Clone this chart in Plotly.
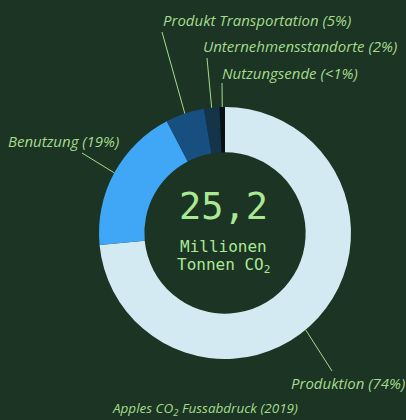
import math
import plotly.graph_objects as go

# ---- data ----
categories = ["Produktion", "Benutzung", "Produkt Transportation",
              "Unternehmensstandorte", "Nutzungsende"]
values = [74, 19, 5, 2, 0.7]
label_texts = ["Produktion (74%)", "Benutzung (19%)", "Produkt Transportation (5%)",
               "Unternehmensstandorte (2%)", "Nutzungsende (<1%)"]
center_value = "25,2"
center_unit = ["Millionen", "Tonnen CO<sub>2</sub>"]
title_text = "Apples CO<sub>2</sub> Fussabdruck (2019)"

# ---- style / layout ----
W, H = 406, 420
BG = "#1b3423"
TXT = "#a6db8c"
CTXT = "#abe893"
colors = ["#d4eaf2", "#3fa7f6", "#174f80", "#143449", "#0a0f13"]

CX, CY, R = 225, 233, 126          # pie centre / radius in pixels
HOLE = 0.64
# where on the slice (fraction of its angle) the leader line meets the ring
anchor_frac = [0.53, 0.5, 0.5, 0.5, 0.5]
# leader line end near the label (pixels) and label left/centre position
line_ends = [(332, 371), (82, 153), (162, 32), (207, 58), (222, 83)]
label_pos = [(289, 383), (6, 141), (161, 20), (201, 46), (220, 73)]


def px(x):
    return x / W


def py(y):
    return 1 - y / H


fig = go.Figure(go.Pie(
    labels=categories, values=values, sort=False, direction="clockwise",
    rotation=0, hole=HOLE, textinfo="none", hoverinfo="label+percent",
    marker=dict(colors=colors, line=dict(width=0)),
    domain=dict(x=[px(CX - R), px(CX + R)], y=[py(CY + R), py(CY - R)]),
    showlegend=False,
))

total = sum(values)
cum = 0
shapes = []
annotations = []
for i, v in enumerate(values):
    ang = (cum + v * anchor_frac[i]) / total * 2 * math.pi
    cum += v
    ax = CX + R * math.sin(ang)
    ay = CY - R * math.cos(ang)
    ex, ey = line_ends[i]
    shapes.append(dict(type="line", xref="paper", yref="paper",
                       x0=px(ax), y0=py(ay), x1=px(ex), y1=py(ey),
                       line=dict(color=TXT, width=1)))
    lx, ly = label_pos[i]
    annotations.append(dict(text=label_texts[i], xref="paper", yref="paper",
                            x=px(lx), y=py(ly), xanchor="left", yanchor="middle",
                            showarrow=False,
                            font=dict(family="Open Sans", size=15, color=TXT,
                                      style="italic")))

annotations.append(dict(text=center_value, xref="paper", yref="paper",
                        x=px(CX - 2), y=py(206), xanchor="center", yanchor="middle",
                        showarrow=False,
                        font=dict(family="DejaVu Sans Mono", size=37, color=CTXT)))
annotations.append(dict(text=center_unit[0], xref="paper", yref="paper",
                        x=px(CX - 2), y=py(246), xanchor="center", yanchor="middle",
                        showarrow=False,
                        font=dict(family="DejaVu Sans Mono", size=16, color=CTXT)))
annotations.append(dict(text=center_unit[1], xref="paper", yref="paper",
                        x=px(CX - 2), y=py(265), xanchor="center", yanchor="middle",
                        showarrow=False,
                        font=dict(family="DejaVu Sans Mono", size=16, color=CTXT)))
annotations.append(dict(text=title_text, xref="paper", yref="paper",
                        x=px(205), y=py(409), xanchor="center", yanchor="middle",
                        showarrow=False,
                        font=dict(family="Open Sans", size=13.5, color=TXT,
                                  style="italic")))

fig.update_layout(width=W, height=H, margin=dict(l=0, r=0, t=0, b=0),
                  paper_bgcolor=BG, plot_bgcolor=BG,
                  shapes=shapes, annotations=annotations)

fig.write_html("out.html", config={"displayModeBar": False},
               post_script="document.body.style.margin='0';"
                           "document.body.style.background='" + BG + "';")
